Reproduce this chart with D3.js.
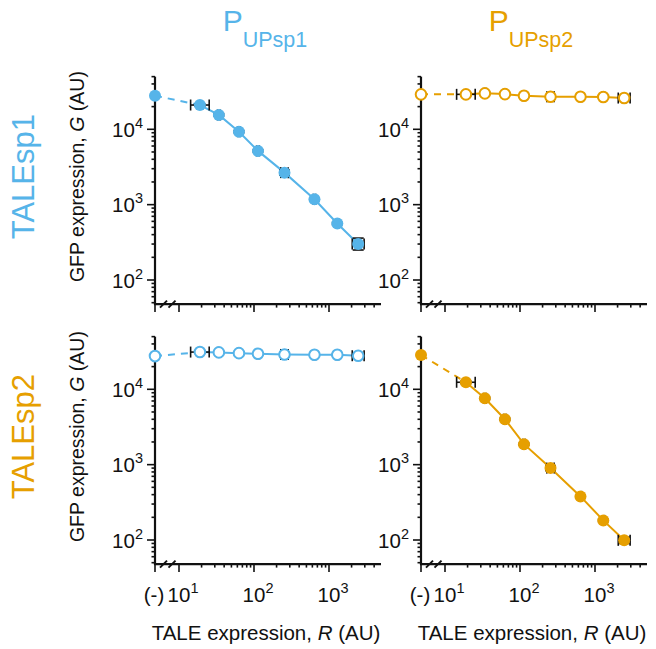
<!DOCTYPE html>
<html><head><meta charset="utf-8">
<script src="https://cdn.jsdelivr.net/npm/d3@7"></script>
<style>body{margin:0;background:#fff} svg{font-family:"Liberation Sans",Arial,sans-serif}</style>
</head><body><svg id="c" width="656" height="649"></svg>
<script>
// ---- data ----
const promoters = ["UPsp1", "UPsp2"];
const taleNames = ["TALEsp1", "TALEsp2"];
const xTickLabels = ["(-)", "1", "2", "3"]; // (-) and exponents of 10
const yTickExponents = [2, 3, 4];
const taleLevels = [19, 34, 63, 113, 255, 640, 1290, 2450];
const taleErr = [1.33, 1.04, 1.04, 1.04, 1.12, 1.04, 1.04, 1.2];
// first value = (-) control (no TALE), then one per TALE level
const gfp_T1_P1 = [27900, 21000, 15500, 9300, 5170, 2660, 1180, 562, 300];
const gfp_T1_P2 = [29100, 29100, 30000, 29300, 27900, 27000, 27000, 26800, 26000];
const gfp_T2_P1 = [27600, 31200, 30900, 30200, 29600, 29000, 28700, 28700, 27900];
const gfp_T2_P2 = [28500, 12400, 7600, 4010, 1870, 900, 379, 182, 99];
const gfpErr_T1_P1 = [1.03, 1.04, 1.03, 1.03, 1.03, 1.08, 1.03, 1.03, 1.2];
const gfpErr_T1_P2 = [1.03, 1.04, 1.03, 1.03, 1.03, 1.06, 1.03, 1.03, 1.06];
const gfpErr_T2_P1 = [1.03, 1.04, 1.03, 1.03, 1.03, 1.06, 1.03, 1.03, 1.06];
const gfpErr_T2_P2 = [1.03, 1.04, 1.03, 1.03, 1.03, 1.08, 1.03, 1.03, 1.1];

const colors = ["#56B4E9", "#E69F00"];
const panels = [
  {r:0, c:0, g:gfp_T1_P1, e:gfpErr_T1_P1},
  {r:0, c:1, g:gfp_T1_P2, e:gfpErr_T1_P2},
  {r:1, c:0, g:gfp_T2_P1, e:gfpErr_T2_P1},
  {r:1, c:1, g:gfp_T2_P2, e:gfpErr_T2_P2}
];

const svg = d3.select("#c");
const colLeft = [155, 421];
const rowTop = [76.6, 336.6];
const FS = 20.5;

function supLabel(sel, exp) {
  sel.append("tspan").text("10");
  sel.append("tspan").attr("dy", -9).attr("font-size", 14.5).text(exp);
}

panels.forEach(p => {
  const L = colLeft[p.c], T = rowTop[p.r];
  const col = colors[p.c];
  const filled = p.r === p.c;
  const x = d3.scaleLog().domain([10, 1000]).range([L + 24, L + 174]);
  const y = d3.scaleLog().domain([100, 10000]).range([T + 203.4, T + 52.7]);
  const xEnd = L + 226;
  const yBot = T + 227.5;
  const yTopVal = 50000;
  const yBotVal = y.invert(yBot);
  const xEndVal = x.invert(xEnd);
  const g = svg.append("g");

  // y axis ticks
  for (let d = 1; d <= 4; d++) {
    for (let m = 1; m <= 9; m++) {
      const v = m * Math.pow(10, d);
      if (v < yBotVal || v > yTopVal + 1) continue;
      const major = m === 1;
      g.append("line").attr("x1", L).attr("x2", L - (major ? 8 : 3.5))
        .attr("y1", y(v)).attr("y2", y(v)).attr("stroke", "#111").attr("stroke-width", 1.6);
    }
  }
  yTickExponents.forEach(e => {
    const t = g.append("text").attr("x", L - 12).attr("y", y(Math.pow(10, e)) + 7.5)
      .attr("text-anchor", "end").attr("font-size", FS).attr("fill", "#111");
    supLabel(t, e);
  });
  // x axis ticks
  g.append("line").attr("x1", L).attr("x2", L).attr("y1", yBot).attr("y2", yBot + 8)
    .attr("stroke", "#111").attr("stroke-width", 1.6);
  for (let d = 1; d <= 3; d++) {
    for (let m = 1; m <= 9; m++) {
      const v = m * Math.pow(10, d);
      if (v > xEndVal) continue;
      const major = m === 1;
      g.append("line").attr("x1", x(v)).attr("x2", x(v))
        .attr("y1", yBot).attr("y2", yBot + (major ? 8 : 3.5)).attr("stroke", "#111").attr("stroke-width", 1.6);
    }
  }
  if (p.r === 1) {
    xTickLabels.forEach((lab, i) => {
      if (i === 0) {
        g.append("text").attr("x", L - 1).attr("y", yBot + 38)
          .attr("text-anchor", "middle").attr("font-size", FS).attr("fill", "#111").text(lab);
      } else {
        const t = g.append("text").attr("x", x(Math.pow(10, +lab)) - 11.4).attr("y", yBot + 38)
          .attr("text-anchor", "start").attr("font-size", FS).attr("fill", "#111");
        supLabel(t, lab);
      }
    });
  }
  // axis lines
  g.append("line").attr("x1", L).attr("x2", L).attr("y1", y(yTopVal)).attr("y2", yBot)
    .attr("stroke", "#111").attr("stroke-width", 2.2);
  g.append("line").attr("x1", L - 1.1).attr("x2", xEnd).attr("y1", yBot).attr("y2", yBot)
    .attr("stroke", "#111").attr("stroke-width", 2.2);
  // break marks
  [8.5, 17].forEach(o => {
    g.append("line").attr("x1", L + o - 3.5).attr("x2", L + o + 3.5)
      .attr("y1", yBot + 3.5).attr("y2", yBot - 3.5).attr("stroke", "#111").attr("stroke-width", 2);
  });

  // data
  const pts = taleLevels.map((r, i) => ({x: x(r), y: y(p.g[i + 1]), r, gv: p.g[i + 1], ex: taleErr[i], ey: p.e[i + 1]}));
  const neg = {x: L, y: y(p.g[0])};
  g.append("line").attr("x1", neg.x).attr("y1", neg.y).attr("x2", pts[0].x).attr("y2", pts[0].y)
    .attr("stroke", col).attr("stroke-width", 2).attr("stroke-dasharray", "7,6");
  g.append("path").datum(pts)
    .attr("d", d3.line().x(d => d.x).y(d => d.y))
    .attr("fill", "none").attr("stroke", col).attr("stroke-width", 2);
  // error bars
  const cap = 5.5;
  pts.forEach(d => {
    const x1 = x(d.r / d.ex), x2 = x(d.r * d.ex);
    const y1 = y(d.gv / d.ey), y2 = y(d.gv * d.ey);
    const eb = g.append("g").attr("stroke", "#111").attr("stroke-width", 1.6);
    eb.append("line").attr("x1", x1).attr("x2", x2).attr("y1", d.y).attr("y2", d.y);
    eb.append("line").attr("x1", x1).attr("x2", x1).attr("y1", d.y - cap).attr("y2", d.y + cap);
    eb.append("line").attr("x1", x2).attr("x2", x2).attr("y1", d.y - cap).attr("y2", d.y + cap);
    eb.append("line").attr("x1", d.x).attr("x2", d.x).attr("y1", y1).attr("y2", y2);
    eb.append("line").attr("x1", d.x - cap).attr("x2", d.x + cap).attr("y1", y1).attr("y2", y1);
    eb.append("line").attr("x1", d.x - cap).attr("x2", d.x + cap).attr("y1", y2).attr("y2", y2);
  });
  const all = [neg].concat(pts);
  g.selectAll("circle.m").data(all).enter().append("circle")
    .attr("cx", d => d.x).attr("cy", d => d.y).attr("r", filled ? 6 : 5.3)
    .attr("fill", filled ? col : "#fff").attr("stroke", col).attr("stroke-width", filled ? 0 : 2);

  // axis titles
  const cx = L + 111;
  if (p.r === 1) {
    const t = svg.append("text").attr("x", cx).attr("y", 640).attr("text-anchor", "middle")
      .attr("font-size", 20.5).attr("fill", "#111");
    t.append("tspan").text("TALE expression, ");
    t.append("tspan").attr("font-style", "italic").text("R");
    t.append("tspan").text(" (AU)");
  }
  if (p.c === 0) {
    const cy = T + 100;
    const t = svg.append("text").attr("transform", `translate(84,${cy}) rotate(-90)`)
      .attr("text-anchor", "middle").attr("font-size", 19.5).attr("fill", "#111");
    t.append("tspan").text("GFP expression, ");
    t.append("tspan").attr("font-style", "italic").text("G");
    t.append("tspan").text(" (AU)");
    svg.append("text").attr("transform", `translate(34,${cy}) rotate(-90)`)
      .attr("text-anchor", "middle").attr("font-size", 31).attr("fill", colors[p.r]).text(taleNames[p.r]);
  }
  if (p.r === 0) {
    const t = svg.append("text").attr("x", cx - 1).attr("y", 31).attr("text-anchor", "middle")
      .attr("fill", col);
    t.append("tspan").attr("font-size", 30).text("P");
    t.append("tspan").attr("font-size", 21.5).attr("dy", 16).text(promoters[p.c]);
  }
});
</script></body></html>
